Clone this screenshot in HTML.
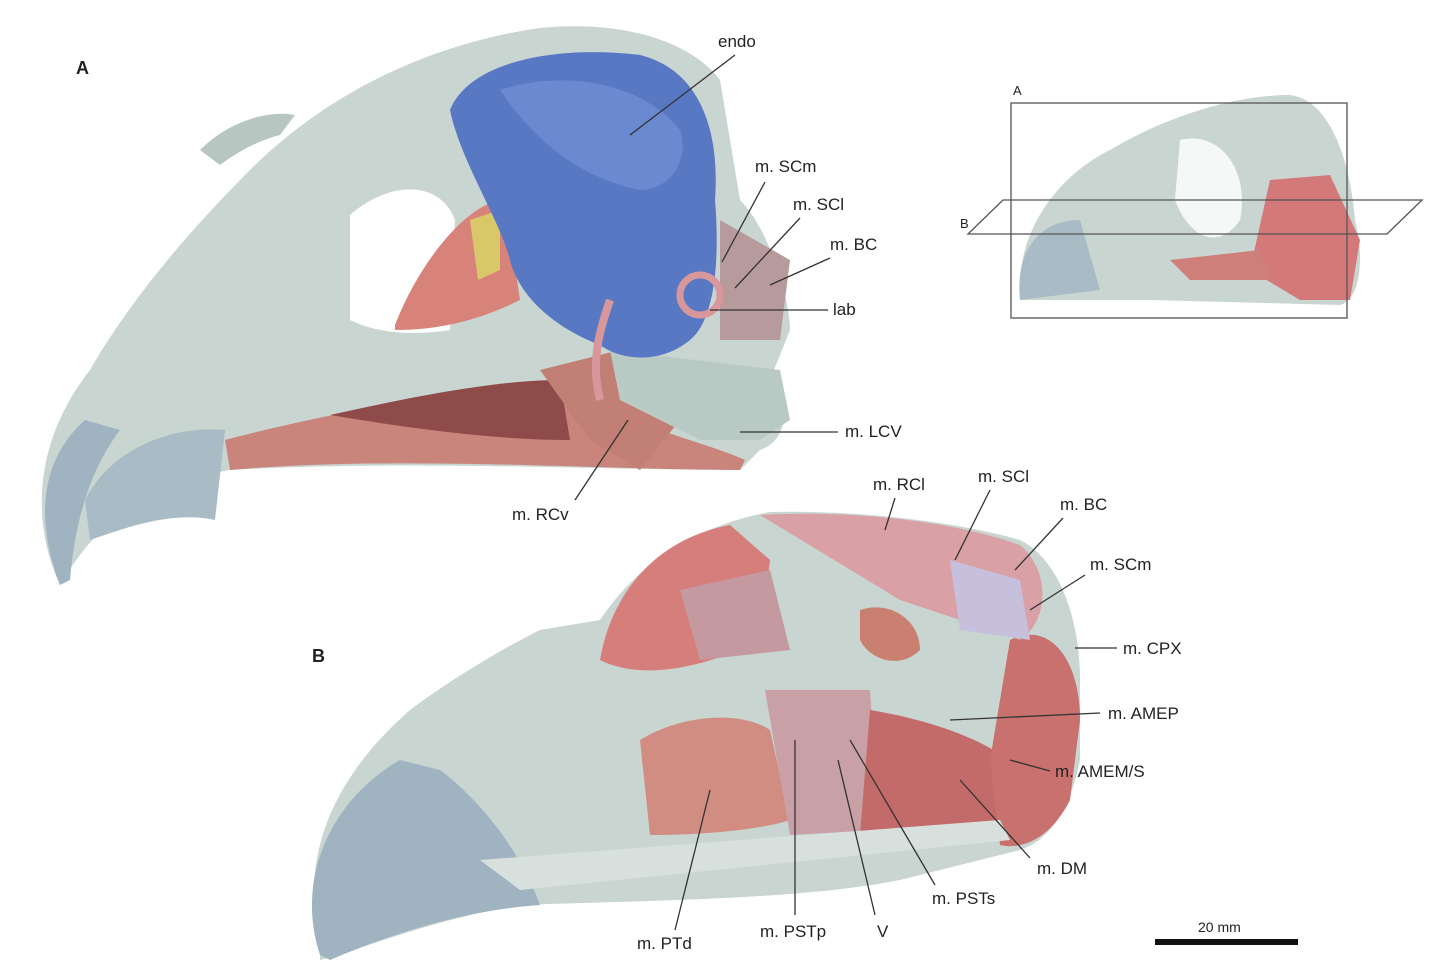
<!DOCTYPE html>
<html><head><meta charset="utf-8"><style>
html,body{margin:0;padding:0;background:#fff;}
svg{display:block;}
text{font-family:"Liberation Sans",sans-serif;font-size:17px;fill:#222;}
.b{font-weight:bold;font-size:18px;}
line{stroke:#333;stroke-width:1.3;}
</style></head><body>
<svg width="1433" height="976" viewBox="0 0 1433 976" xmlns="http://www.w3.org/2000/svg">
<!-- Skull A -->
<path d="M60,585 C30,520 35,440 90,370 C130,300 190,230 250,170 C320,100 420,45 540,28 C620,20 690,40 720,80 L740,200 C770,230 790,300 790,330 L770,380 C790,400 790,440 760,450 L740,470 C600,470 400,460 230,470 C170,480 110,500 60,585 Z" fill="#c9d5d1"/>
<path d="M200,150 C230,120 270,110 295,115 L280,135 C260,140 240,150 220,165 Z" fill="#b8c6c2"/>
<path d="M60,585 C35,520 40,460 85,420 L120,430 C90,470 75,520 70,580 Z" fill="#9fb4c0"/>
<path d="M85,500 C110,450 170,425 225,430 L215,520 C170,510 120,530 90,540 Z" fill="#a9bcc6"/>
<path d="M350,215 C390,180 440,180 455,220 L450,330 C420,335 380,335 350,320 Z" fill="#ffffff"/>
<path d="M395,325 C420,260 470,200 505,200 L520,300 C480,320 440,330 395,330 Z" fill="#d8837a"/>
<path d="M470,220 L500,210 L500,270 L478,280 Z" fill="#d8c86a"/>
<path d="M225,440 C300,420 420,395 560,380 L600,400 C640,430 700,440 745,460 L740,470 C600,470 400,455 230,470 Z" fill="#c9857b"/>
<path d="M330,415 C420,395 500,380 560,380 L570,440 C500,440 420,430 330,415 Z" fill="#8e4b49"/>
<path d="M540,370 L620,350 L680,420 L640,470 L590,440 Z" fill="#c27f76"/>
<path d="M610,350 L780,370 L790,420 L760,440 L700,440 L620,400 Z" fill="#b9cac5"/>
<path d="M450,110 C470,60 560,45 640,55 C700,70 720,130 715,200 C720,260 715,320 690,340 C660,365 620,360 600,345 C560,330 520,300 510,260 C500,220 460,160 450,110 Z" fill="#5878c4"/>
<path d="M500,90 C560,70 640,80 680,130 C690,160 670,190 640,190 C590,180 540,150 500,90 Z" fill="#6a89d0"/>
<path d="M720,220 L790,260 L780,340 L720,340 Z" fill="#b79a9c"/>
<circle cx="700" cy="295" r="20" fill="none" stroke="#d8979a" stroke-width="7"/>
<path d="M610,300 C600,330 590,360 600,400" fill="none" stroke="#d8979a" stroke-width="8"/>
<!-- labels A -->
<text class="b" x="76" y="74">A</text>
<text x="718" y="47">endo</text><line x1="735" y1="55" x2="630" y2="135"/>
<text x="755" y="172">m. SCm</text><line x1="765" y1="182" x2="722" y2="262"/>
<text x="793" y="210">m. SCl</text><line x1="800" y1="218" x2="735" y2="288"/>
<text x="830" y="250">m. BC</text><line x1="830" y1="258" x2="770" y2="285"/>
<text x="833" y="315">lab</text><line x1="828" y1="310" x2="710" y2="310"/>
<text x="845" y="437">m. LCV</text><line x1="838" y1="432" x2="740" y2="432"/>
<text x="512" y="520">m. RCv</text><line x1="575" y1="500" x2="628" y2="420"/>
<!-- inset -->
<path d="M1020,300 C1015,240 1050,180 1110,150 C1160,120 1230,95 1290,95 C1330,100 1350,160 1355,220 C1365,260 1360,300 1340,305 L1150,300 Z" fill="#c9d5d1"/>
<path d="M1020,300 C1015,250 1040,220 1080,220 L1100,290 Z" fill="#a9bcc6"/>
<path d="M1180,140 C1220,130 1250,170 1240,220 C1220,250 1190,240 1175,200 Z" fill="#f6f8f7"/>
<path d="M1270,180 L1330,175 L1360,240 L1350,300 L1300,300 L1250,270 Z" fill="#d4797a"/>
<path d="M1170,260 L1260,250 L1270,280 L1190,280 Z" fill="#cf7f7a"/>
<rect x="1011" y="103" width="336" height="215" fill="none" stroke="#555" stroke-width="1.3"/>
<path d="M968,234 L1003,200 L1422,200 L1387,234 Z" fill="none" stroke="#555" stroke-width="1.3"/>
<text x="1013" y="95" style="font-size:13px">A</text>
<text x="960" y="228" style="font-size:13px">B</text>
<!-- Skull B -->
<path d="M320,940 C300,860 330,780 410,710 C450,680 500,650 540,630 L600,620 C640,560 700,525 770,512 C850,510 950,520 1020,540 C1060,560 1080,620 1080,680 L1080,760 C1070,810 1050,840 1020,850 L900,880 C800,900 650,900 520,905 C430,920 360,950 320,960 Z" fill="#c9d5d1"/>
<path d="M320,955 C295,880 330,800 400,760 L440,770 C480,800 520,850 540,905 C470,910 400,930 330,960 Z" fill="#9fb4c0"/>
<path d="M600,660 C610,600 650,540 730,525 L770,560 L760,640 C700,670 640,680 600,660 Z" fill="#d67e7b"/>
<path d="M680,590 L770,570 L790,650 L700,660 Z" fill="#c49aa0"/>
<path d="M640,740 C680,715 740,710 770,730 L790,820 C760,830 700,835 650,835 Z" fill="#d18d81"/>
<path d="M765,690 L870,690 L880,830 L790,835 Z" fill="#c9a0a6"/>
<path d="M870,710 C930,720 990,740 1020,770 L1010,830 C960,840 900,840 860,835 Z" fill="#c36a6a"/>
<path d="M1010,640 C1050,620 1080,660 1080,720 L1070,800 C1050,840 1020,850 1000,845 L990,760 Z" fill="#c8716f"/>
<path d="M760,515 C850,510 950,520 1020,545 C1050,570 1050,620 1020,640 L900,600 Z" fill="#d9a1a6"/>
<path d="M950,560 L1020,580 L1030,640 L960,630 Z" fill="#c6c0dc"/>
<path d="M860,610 C890,600 920,620 920,650 C900,670 870,660 860,640 Z" fill="#c98070"/>
<path d="M480,860 L1000,820 L1010,840 L520,890 Z" fill="#d7e0dd"/>
<!-- labels B -->
<text class="b" x="312" y="662">B</text>
<text x="873" y="490">m. RCl</text><line x1="895" y1="498" x2="885" y2="530"/>
<text x="978" y="482">m. SCl</text><line x1="990" y1="490" x2="955" y2="560"/>
<text x="1060" y="510">m. BC</text><line x1="1063" y1="518" x2="1015" y2="570"/>
<text x="1090" y="570">m. SCm</text><line x1="1085" y1="575" x2="1030" y2="610"/>
<text x="1123" y="654">m. CPX</text><line x1="1117" y1="648" x2="1075" y2="648"/>
<text x="1108" y="719">m. AMEP</text><line x1="1100" y1="713" x2="950" y2="720"/>
<text x="1055" y="777">m. AMEM/S</text><line x1="1050" y1="771" x2="1010" y2="760"/>
<text x="1037" y="874">m. DM</text><line x1="1030" y1="858" x2="960" y2="780"/>
<text x="932" y="904">m. PSTs</text><line x1="935" y1="885" x2="850" y2="740"/>
<text x="877" y="937">V</text><line x1="875" y1="915" x2="838" y2="760"/>
<text x="760" y="937">m. PSTp</text><line x1="795" y1="915" x2="795" y2="740"/>
<text x="637" y="949">m. PTd</text><line x1="675" y1="930" x2="710" y2="790"/>
<!-- scale -->
<line x1="1155" y1="942" x2="1298" y2="942" style="stroke:#111;stroke-width:6"/>
<text x="1198" y="932" style="font-size:14px">20 mm</text>
</svg>
</body></html>
